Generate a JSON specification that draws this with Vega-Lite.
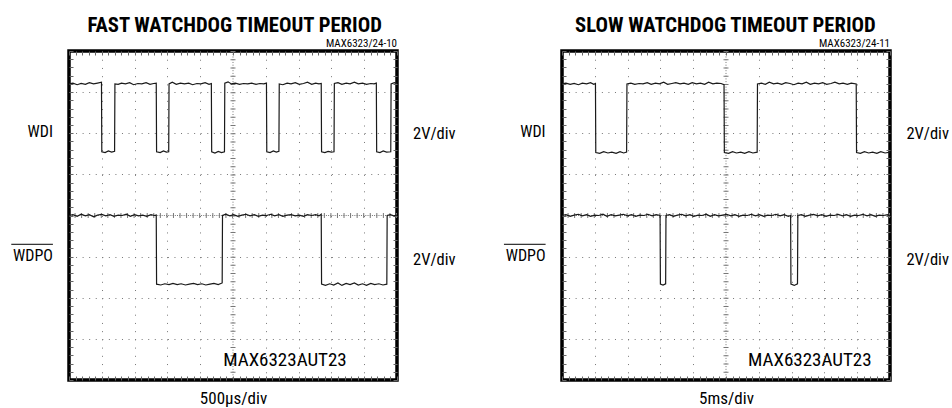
{
  "$schema": "https://vega.github.io/schema/vega-lite/v6.json",
  "padding": {"left": 9, "top": 13, "right": 0, "bottom": 0},
  "spacing": 165,
  "bounds": "flush",
  "background": "white",
  "config": {
    "view": {"stroke": "#000", "strokeWidth": 3.5},
    "font": "Roboto Condensed, Roboto, Liberation Sans, sans-serif"
  },
  "datasets": {
    "fw": [
      {"t":0,"v":7.2},{"t":0.12,"v":7.22},{"t":0.25,"v":7.18},{"t":0.37,"v":7.21},{"t":0.5,"v":7.19},{"t":0.62,"v":7.23},{"t":0.75,"v":7.2},{"t":0.87,"v":7.22},{"t":0.99,"v":7.24},
      {"t":1.0,"v":5.55},{"t":1.1,"v":5.53},{"t":1.2,"v":5.57},{"t":1.3,"v":5.54},{"t":1.39,"v":5.56},
      {"t":1.4,"v":7.2},{"t":1.5,"v":7.19},{"t":1.6,"v":7.22},{"t":1.72,"v":7.2},{"t":1.85,"v":7.23},{"t":1.97,"v":7.18},{"t":2.1,"v":7.21},{"t":2.22,"v":7.2},{"t":2.35,"v":7.23},{"t":2.47,"v":7.19},{"t":2.58,"v":7.21},{"t":2.66,"v":7.22},
      {"t":2.67,"v":5.55},{"t":2.78,"v":5.53},{"t":2.88,"v":5.57},{"t":2.97,"v":5.54},{"t":3.04,"v":5.55},
      {"t":3.05,"v":7.2},{"t":3.15,"v":7.24},{"t":3.27,"v":7.19},{"t":3.4,"v":7.22},{"t":3.52,"v":7.2},{"t":3.65,"v":7.22},{"t":3.77,"v":7.18},{"t":3.9,"v":7.21},{"t":4.02,"v":7.2},{"t":4.15,"v":7.23},{"t":4.27,"v":7.19},{"t":4.34,"v":7.21},
      {"t":4.35,"v":5.55},{"t":4.45,"v":5.52},{"t":4.55,"v":5.56},{"t":4.65,"v":5.53},{"t":4.74,"v":5.55},
      {"t":4.75,"v":7.22},{"t":4.85,"v":7.25},{"t":4.95,"v":7.2},{"t":5.07,"v":7.22},{"t":5.2,"v":7.19},{"t":5.32,"v":7.21},{"t":5.45,"v":7.2},{"t":5.57,"v":7.22},{"t":5.7,"v":7.19},{"t":5.82,"v":7.21},{"t":5.94,"v":7.2},{"t":6.02,"v":7.22},
      {"t":6.03,"v":5.55},{"t":6.13,"v":5.53},{"t":6.23,"v":5.57},{"t":6.32,"v":5.54},{"t":6.4,"v":5.56},
      {"t":6.41,"v":7.2},{"t":6.52,"v":7.18},{"t":6.65,"v":7.22},{"t":6.77,"v":7.2},{"t":6.9,"v":7.23},{"t":7.02,"v":7.19},{"t":7.15,"v":7.21},{"t":7.27,"v":7.24},{"t":7.4,"v":7.19},{"t":7.52,"v":7.22},{"t":7.62,"v":7.2},{"t":7.69,"v":7.21},
      {"t":7.7,"v":5.55},{"t":7.8,"v":5.53},{"t":7.9,"v":5.56},{"t":8.0,"v":5.54},{"t":8.08,"v":5.55},
      {"t":8.09,"v":7.21},{"t":8.2,"v":7.23},{"t":8.32,"v":7.19},{"t":8.45,"v":7.22},{"t":8.57,"v":7.2},{"t":8.7,"v":7.24},{"t":8.82,"v":7.2},{"t":8.95,"v":7.22},{"t":9.07,"v":7.19},{"t":9.2,"v":7.21},{"t":9.3,"v":7.2},{"t":9.37,"v":7.22},
      {"t":9.38,"v":5.55},{"t":9.48,"v":5.53},{"t":9.58,"v":5.57},{"t":9.68,"v":5.54},{"t":9.81,"v":5.55},
      {"t":9.82,"v":7.2},{"t":9.92,"v":7.23},{"t":10,"v":7.21}
    ],
    "fp": [
      {"t":0,"v":4.0},{"t":0.12,"v":4.02},{"t":0.25,"v":3.98},{"t":0.37,"v":4.03},{"t":0.5,"v":3.99},{"t":0.62,"v":4.02},{"t":0.75,"v":3.97},{"t":0.87,"v":4.01},{"t":1.0,"v":4.03},{"t":1.12,"v":3.99},{"t":1.25,"v":4.02},{"t":1.37,"v":3.98},{"t":1.5,"v":4.01},{"t":1.62,"v":4.0},{"t":1.75,"v":4.03},{"t":1.87,"v":3.98},{"t":2.0,"v":4.02},{"t":2.12,"v":3.99},{"t":2.25,"v":4.01},{"t":2.37,"v":3.98},{"t":2.5,"v":4.02},{"t":2.6,"v":4.0},{"t":2.66,"v":4.01},
      {"t":2.67,"v":2.33},{"t":2.8,"v":2.31},{"t":2.92,"v":2.34},{"t":3.05,"v":2.32},{"t":3.17,"v":2.35},{"t":3.3,"v":2.32},{"t":3.42,"v":2.34},{"t":3.55,"v":2.31},{"t":3.67,"v":2.33},{"t":3.8,"v":2.35},{"t":3.92,"v":2.32},{"t":4.05,"v":2.34},{"t":4.17,"v":2.31},{"t":4.3,"v":2.33},{"t":4.42,"v":2.35},{"t":4.55,"v":2.32},{"t":4.67,"v":2.36},
      {"t":4.68,"v":4.0},{"t":4.78,"v":4.03},{"t":4.9,"v":3.99},{"t":5.02,"v":4.02},{"t":5.15,"v":3.98},{"t":5.27,"v":4.01},{"t":5.4,"v":4.03},{"t":5.52,"v":3.99},{"t":5.65,"v":4.02},{"t":5.77,"v":3.98},{"t":5.9,"v":4.01},{"t":6.02,"v":4.0},{"t":6.15,"v":4.03},{"t":6.27,"v":3.99},{"t":6.4,"v":4.02},{"t":6.52,"v":3.98},{"t":6.65,"v":4.01},{"t":6.77,"v":4.02},{"t":6.9,"v":3.99},{"t":7.02,"v":4.01},{"t":7.15,"v":3.98},{"t":7.27,"v":4.02},{"t":7.4,"v":4.0},{"t":7.52,"v":4.02},{"t":7.62,"v":3.99},{"t":7.69,"v":4.03},
      {"t":7.7,"v":2.33},{"t":7.82,"v":2.3},{"t":7.95,"v":2.34},{"t":8.07,"v":2.31},{"t":8.2,"v":2.36},{"t":8.32,"v":2.3},{"t":8.45,"v":2.35},{"t":8.57,"v":2.32},{"t":8.7,"v":2.36},{"t":8.82,"v":2.31},{"t":8.95,"v":2.34},{"t":9.07,"v":2.3},{"t":9.2,"v":2.35},{"t":9.32,"v":2.32},{"t":9.45,"v":2.34},{"t":9.57,"v":2.31},{"t":9.69,"v":2.33},
      {"t":9.7,"v":4.0},{"t":9.8,"v":4.02},{"t":9.9,"v":3.99},{"t":10,"v":4.01}
    ],
    "sw": [
      {"t":0,"v":7.2},{"t":0.12,"v":7.22},{"t":0.25,"v":7.19},{"t":0.37,"v":7.21},{"t":0.5,"v":7.18},{"t":0.62,"v":7.22},{"t":0.75,"v":7.2},{"t":0.87,"v":7.23},{"t":0.97,"v":7.19},{"t":1.02,"v":7.21},
      {"t":1.03,"v":5.53},{"t":1.15,"v":5.51},{"t":1.27,"v":5.55},{"t":1.4,"v":5.52},{"t":1.52,"v":5.54},{"t":1.65,"v":5.51},{"t":1.77,"v":5.55},{"t":1.88,"v":5.52},{"t":1.97,"v":5.54},
      {"t":1.98,"v":7.2},{"t":2.1,"v":7.22},{"t":2.22,"v":7.19},{"t":2.35,"v":7.21},{"t":2.47,"v":7.2},{"t":2.6,"v":7.23},{"t":2.72,"v":7.19},{"t":2.85,"v":7.22},{"t":2.97,"v":7.2},{"t":3.1,"v":7.24},{"t":3.22,"v":7.19},{"t":3.35,"v":7.21},{"t":3.47,"v":7.23},{"t":3.6,"v":7.2},{"t":3.72,"v":7.22},{"t":3.85,"v":7.19},{"t":3.97,"v":7.23},{"t":4.1,"v":7.2},{"t":4.22,"v":7.22},{"t":4.35,"v":7.19},{"t":4.47,"v":7.24},{"t":4.6,"v":7.2},{"t":4.72,"v":7.22},{"t":4.85,"v":7.21},{"t":4.94,"v":7.18},
      {"t":4.95,"v":5.53},{"t":5.08,"v":5.51},{"t":5.2,"v":5.55},{"t":5.32,"v":5.52},{"t":5.45,"v":5.54},{"t":5.57,"v":5.51},{"t":5.7,"v":5.55},{"t":5.82,"v":5.52},{"t":5.95,"v":5.54},
      {"t":5.96,"v":7.2},{"t":6.08,"v":7.22},{"t":6.2,"v":7.19},{"t":6.32,"v":7.24},{"t":6.45,"v":7.2},{"t":6.57,"v":7.22},{"t":6.7,"v":7.19},{"t":6.82,"v":7.23},{"t":6.95,"v":7.21},{"t":7.07,"v":7.18},{"t":7.2,"v":7.22},{"t":7.32,"v":7.2},{"t":7.45,"v":7.24},{"t":7.57,"v":7.19},{"t":7.7,"v":7.22},{"t":7.82,"v":7.2},{"t":7.95,"v":7.23},{"t":8.07,"v":7.19},{"t":8.2,"v":7.21},{"t":8.32,"v":7.24},{"t":8.45,"v":7.2},{"t":8.57,"v":7.22},{"t":8.7,"v":7.19},{"t":8.82,"v":7.22},{"t":8.97,"v":7.2},
      {"t":8.98,"v":5.53},{"t":9.1,"v":5.51},{"t":9.22,"v":5.55},{"t":9.35,"v":5.52},{"t":9.47,"v":5.54},{"t":9.6,"v":5.51},{"t":9.72,"v":5.55},{"t":9.85,"v":5.52},{"t":10,"v":5.54}
    ],
    "sp": [
      {"t":0,"v":4.0},{"t":0.12,"v":4.02},{"t":0.25,"v":3.98},{"t":0.37,"v":4.01},{"t":0.5,"v":4.03},{"t":0.62,"v":3.99},{"t":0.75,"v":4.02},{"t":0.87,"v":3.98},{"t":1.0,"v":4.01},{"t":1.12,"v":4.0},{"t":1.25,"v":4.03},{"t":1.37,"v":3.98},{"t":1.5,"v":4.02},{"t":1.62,"v":3.99},{"t":1.75,"v":4.01},{"t":1.87,"v":4.03},{"t":2.0,"v":3.99},{"t":2.12,"v":4.02},{"t":2.25,"v":3.98},{"t":2.37,"v":4.01},{"t":2.5,"v":4.0},{"t":2.62,"v":4.03},{"t":2.75,"v":3.99},{"t":2.87,"v":4.02},{"t":2.99,"v":4.0},
      {"t":3.0,"v":2.33},{"t":3.08,"v":2.31},{"t":3.16,"v":2.34},
      {"t":3.17,"v":4.0},{"t":3.28,"v":4.02},{"t":3.4,"v":3.98},{"t":3.52,"v":4.01},{"t":3.65,"v":4.03},{"t":3.77,"v":3.99},{"t":3.9,"v":4.02},{"t":4.02,"v":3.98},{"t":4.15,"v":4.01},{"t":4.27,"v":4.0},{"t":4.4,"v":4.03},{"t":4.52,"v":3.98},{"t":4.65,"v":4.02},{"t":4.77,"v":3.99},{"t":4.9,"v":4.01},{"t":5.02,"v":4.03},{"t":5.15,"v":3.99},{"t":5.27,"v":4.02},{"t":5.4,"v":3.98},{"t":5.52,"v":4.01},{"t":5.65,"v":4.0},{"t":5.77,"v":4.03},{"t":5.9,"v":3.99},{"t":6.02,"v":4.02},{"t":6.15,"v":3.98},{"t":6.27,"v":4.01},{"t":6.4,"v":4.0},{"t":6.52,"v":4.03},{"t":6.65,"v":3.99},{"t":6.77,"v":4.02},{"t":6.9,"v":3.98},{"t":6.97,"v":4.0},
      {"t":6.98,"v":2.33},{"t":7.08,"v":2.3},{"t":7.18,"v":2.34},
      {"t":7.19,"v":4.0},{"t":7.3,"v":4.02},{"t":7.42,"v":3.98},{"t":7.55,"v":4.01},{"t":7.67,"v":4.03},{"t":7.8,"v":3.99},{"t":7.92,"v":4.02},{"t":8.05,"v":3.98},{"t":8.17,"v":4.01},{"t":8.3,"v":4.0},{"t":8.42,"v":4.03},{"t":8.55,"v":3.99},{"t":8.67,"v":4.02},{"t":8.8,"v":3.98},{"t":8.92,"v":4.01},{"t":9.05,"v":4.0},{"t":9.17,"v":4.03},{"t":9.3,"v":3.99},{"t":9.42,"v":4.02},{"t":9.55,"v":3.98},{"t":9.67,"v":4.01},{"t":9.8,"v":4.0},{"t":9.92,"v":4.02},{"t":10,"v":3.99}
    ]
  },
  "hconcat": [
    {
      "width": 328, "height": 329,
      "resolve": {"axis": {"x": "independent", "y": "independent"}},
      "layer": [
        {"data": {"values": [{"line": "center"}]}, "mark": {"type": "rule", "color": "#777", "strokeWidth": 1, "strokeDash": [1, 1.74]}, "encoding": {"x": {"datum": 5, "axis": null}}},
        {"data": {"values": [{"line": "center"}]}, "mark": {"type": "rule", "color": "#777", "strokeWidth": 5, "strokeDash": [1, 7.225]}, "encoding": {"x": {"datum": 5, "axis": null}}},
        {"data": {"values": [{"line": "center"}]}, "mark": {"type": "rule", "color": "#777", "strokeWidth": 1, "strokeDash": [1, 1.19]}, "encoding": {"y": {"datum": 4, "axis": null}}},
        {"data": {"values": [{"line": "center"}]}, "mark": {"type": "rule", "color": "#777", "strokeWidth": 5, "strokeDash": [1, 5.56]}, "encoding": {"y": {"datum": 4, "axis": null}}},
        {
          "data": {"name": "fw"},
          "mark": {"type": "line", "color": "#1a1a1a", "strokeWidth": 1.2},
          "encoding": {
            "x": {"field": "t", "type": "quantitative", "scale": {"domain": [0, 10], "nice": false, "zero": false},
              "axis": {"orient": "bottom", "tickCount": 50, "tickSize": -4, "tickColor": "#666", "tickWidth": 1, "labels": false, "domain": false,
                "grid": true, "gridColor": "#777", "gridWidth": 1, "gridDash": [1, 7.225],
                "gridOpacity": {"condition": {"test": "datum.value % 1 === 0 && datum.value > 0 && datum.value < 10 && datum.value !== 5", "value": 1}, "value": 0},
                "title": "500µs/div", "titleFontSize": 17, "titleFontWeight": "normal", "titleColor": "#000", "titlePadding": 10}},
            "y": {"field": "v", "type": "quantitative", "scale": {"domain": [0, 8], "nice": false, "zero": false},
              "axis": {"orient": "left", "tickCount": 40, "tickSize": -4, "tickColor": "#666", "tickWidth": 1, "labels": false, "domain": false,
                "grid": true, "gridColor": "#777", "gridWidth": 1, "gridDash": [1, 5.56],
                "gridOpacity": {"condition": {"test": "datum.value % 1 === 0 && datum.value > 0 && datum.value < 8 && datum.value !== 4", "value": 1}, "value": 0},
                "title": null}}
          }
        },
        {
          "data": {"name": "fp"},
          "mark": {"type": "line", "color": "#1a1a1a", "strokeWidth": 1.2},
          "encoding": {
            "x": {"field": "t", "type": "quantitative", "scale": {"domain": [0, 10], "nice": false, "zero": false},
              "axis": {"orient": "top", "tickCount": 50, "tickSize": -4, "tickColor": "#666", "tickWidth": 1, "labels": false, "domain": false, "grid": false, "title": null}},
            "y": {"field": "v", "type": "quantitative", "scale": {"domain": [0, 8], "nice": false, "zero": false},
              "axis": {"orient": "right", "tickCount": 40, "tickSize": -4, "tickColor": "#666", "tickWidth": 1, "labels": false, "domain": false, "grid": false, "title": null}}
          }
        },
        {"data": {"values": [{"label": "FAST WATCHDOG TIMEOUT PERIOD"}]}, "mark": {"type": "text", "align": "center", "baseline": "alphabetic", "fontSize": 20.7, "fontWeight": "bold", "color": "#000"}, "encoding": {"text": {"field": "label"}, "x": {"datum": 5.05, "axis": null}, "y": {"datum": 8.46, "axis": null}}},
        {"data": {"values": [{"label": "WDI"}]}, "mark": {"type": "text", "align": "right", "baseline": "alphabetic", "fontSize": 16, "color": "#000"}, "encoding": {"text": {"field": "label"}, "x": {"datum": -0.49, "axis": null}, "y": {"datum": 5.91, "axis": null}}},
        {"data": {"values": [{"label": "WDPO"}]}, "mark": {"type": "text", "align": "right", "baseline": "alphabetic", "fontSize": 16, "color": "#000"}, "encoding": {"text": {"field": "label"}, "x": {"datum": -0.49, "axis": null}, "y": {"datum": 2.9, "axis": null}}},
        {"data": {"values": [{"label": "WDPO"}]}, "mark": {"type": "rule", "color": "#000", "strokeWidth": 1}, "encoding": {"x": {"datum": -1.76, "axis": null}, "x2": {"datum": -0.49}, "y": {"datum": 3.3, "axis": null}}},
        {"data": {"values": [{"label": "2V/div"}]}, "mark": {"type": "text", "align": "left", "baseline": "alphabetic", "fontSize": 16.5, "color": "#000"}, "encoding": {"text": {"field": "label"}, "x": {"datum": 10.49, "axis": null}, "y": {"datum": 5.87, "axis": null}}},
        {"data": {"values": [{"label": "2V/div"}]}, "mark": {"type": "text", "align": "left", "baseline": "alphabetic", "fontSize": 16.5, "color": "#000"}, "encoding": {"text": {"field": "label"}, "x": {"datum": 10.49, "axis": null}, "y": {"datum": 2.79, "axis": null}}},
        {"data": {"values": [{"label": "MAX6323AUT23"}]}, "mark": {"type": "text", "align": "left", "baseline": "alphabetic", "fontSize": 19, "color": "#000"}, "encoding": {"text": {"field": "label"}, "x": {"datum": 4.7, "axis": null}, "y": {"datum": 0.33, "axis": null}}},
        {"data": {"values": [{"label": "MAX6323/24-10"}]}, "mark": {"type": "text", "align": "right", "baseline": "alphabetic", "fontSize": 11, "color": "#000", "dy": -4}, "encoding": {"text": {"field": "label"}, "x": {"datum": 10, "axis": null}, "y": {"datum": 8, "axis": null}}}
      ]
    },
    {
      "width": 328, "height": 329,
      "resolve": {"axis": {"x": "independent", "y": "independent"}},
      "layer": [
        {"data": {"values": [{"line": "center"}]}, "mark": {"type": "rule", "color": "#777", "strokeWidth": 1, "strokeDash": [1, 1.74]}, "encoding": {"x": {"datum": 5, "axis": null}}},
        {"data": {"values": [{"line": "center"}]}, "mark": {"type": "rule", "color": "#777", "strokeWidth": 5, "strokeDash": [1, 7.225]}, "encoding": {"x": {"datum": 5, "axis": null}}},
        {"data": {"values": [{"line": "center"}]}, "mark": {"type": "rule", "color": "#777", "strokeWidth": 1, "strokeDash": [1, 1.19]}, "encoding": {"y": {"datum": 4, "axis": null}}},
        {"data": {"values": [{"line": "center"}]}, "mark": {"type": "rule", "color": "#777", "strokeWidth": 5, "strokeDash": [1, 5.56]}, "encoding": {"y": {"datum": 4, "axis": null}}},
        {
          "data": {"name": "sw"},
          "mark": {"type": "line", "color": "#1a1a1a", "strokeWidth": 1.2},
          "encoding": {
            "x": {"field": "t", "type": "quantitative", "scale": {"domain": [0, 10], "nice": false, "zero": false},
              "axis": {"orient": "bottom", "tickCount": 50, "tickSize": -4, "tickColor": "#666", "tickWidth": 1, "labels": false, "domain": false,
                "grid": true, "gridColor": "#777", "gridWidth": 1, "gridDash": [1, 7.225],
                "gridOpacity": {"condition": {"test": "datum.value % 1 === 0 && datum.value > 0 && datum.value < 10 && datum.value !== 5", "value": 1}, "value": 0},
                "title": "5ms/div", "titleFontSize": 17, "titleFontWeight": "normal", "titleColor": "#000", "titlePadding": 10}},
            "y": {"field": "v", "type": "quantitative", "scale": {"domain": [0, 8], "nice": false, "zero": false},
              "axis": {"orient": "left", "tickCount": 40, "tickSize": -4, "tickColor": "#666", "tickWidth": 1, "labels": false, "domain": false,
                "grid": true, "gridColor": "#777", "gridWidth": 1, "gridDash": [1, 5.56],
                "gridOpacity": {"condition": {"test": "datum.value % 1 === 0 && datum.value > 0 && datum.value < 8 && datum.value !== 4", "value": 1}, "value": 0},
                "title": null}}
          }
        },
        {
          "data": {"name": "sp"},
          "mark": {"type": "line", "color": "#1a1a1a", "strokeWidth": 1.2},
          "encoding": {
            "x": {"field": "t", "type": "quantitative", "scale": {"domain": [0, 10], "nice": false, "zero": false},
              "axis": {"orient": "top", "tickCount": 50, "tickSize": -4, "tickColor": "#666", "tickWidth": 1, "labels": false, "domain": false, "grid": false, "title": null}},
            "y": {"field": "v", "type": "quantitative", "scale": {"domain": [0, 8], "nice": false, "zero": false},
              "axis": {"orient": "right", "tickCount": 40, "tickSize": -4, "tickColor": "#666", "tickWidth": 1, "labels": false, "domain": false, "grid": false, "title": null}}
          }
        },
        {"data": {"values": [{"label": "SLOW WATCHDOG TIMEOUT PERIOD"}]}, "mark": {"type": "text", "align": "center", "baseline": "alphabetic", "fontSize": 20.7, "fontWeight": "bold", "color": "#000"}, "encoding": {"text": {"field": "label"}, "x": {"datum": 4.98, "axis": null}, "y": {"datum": 8.46, "axis": null}}},
        {"data": {"values": [{"label": "WDI"}]}, "mark": {"type": "text", "align": "right", "baseline": "alphabetic", "fontSize": 16, "color": "#000"}, "encoding": {"text": {"field": "label"}, "x": {"datum": -0.5, "axis": null}, "y": {"datum": 5.91, "axis": null}}},
        {"data": {"values": [{"label": "WDPO"}]}, "mark": {"type": "text", "align": "right", "baseline": "alphabetic", "fontSize": 16, "color": "#000"}, "encoding": {"text": {"field": "label"}, "x": {"datum": -0.5, "axis": null}, "y": {"datum": 2.9, "axis": null}}},
        {"data": {"values": [{"label": "WDPO"}]}, "mark": {"type": "rule", "color": "#000", "strokeWidth": 1}, "encoding": {"x": {"datum": -1.77, "axis": null}, "x2": {"datum": -0.5}, "y": {"datum": 3.3, "axis": null}}},
        {"data": {"values": [{"label": "2V/div"}]}, "mark": {"type": "text", "align": "left", "baseline": "alphabetic", "fontSize": 16.5, "color": "#000"}, "encoding": {"text": {"field": "label"}, "x": {"datum": 10.5, "axis": null}, "y": {"datum": 5.87, "axis": null}}},
        {"data": {"values": [{"label": "2V/div"}]}, "mark": {"type": "text", "align": "left", "baseline": "alphabetic", "fontSize": 16.5, "color": "#000"}, "encoding": {"text": {"field": "label"}, "x": {"datum": 10.5, "axis": null}, "y": {"datum": 2.79, "axis": null}}},
        {"data": {"values": [{"label": "MAX6323AUT23"}]}, "mark": {"type": "text", "align": "left", "baseline": "alphabetic", "fontSize": 19, "color": "#000"}, "encoding": {"text": {"field": "label"}, "x": {"datum": 5.67, "axis": null}, "y": {"datum": 0.33, "axis": null}}},
        {"data": {"values": [{"label": "MAX6323/24-11"}]}, "mark": {"type": "text", "align": "right", "baseline": "alphabetic", "fontSize": 11, "color": "#000", "dy": -4}, "encoding": {"text": {"field": "label"}, "x": {"datum": 10, "axis": null}, "y": {"datum": 8, "axis": null}}}
      ]
    }
  ]
}
